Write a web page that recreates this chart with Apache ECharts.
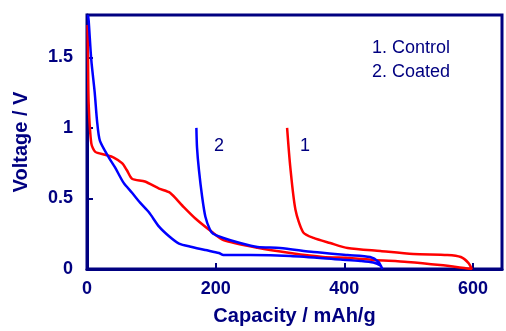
<!DOCTYPE html>
<html>
<head>
<meta charset="utf-8">
<script src="https://cdn.jsdelivr.net/npm/echarts@6/dist/echarts.min.js"></script>
<style>
html,body{margin:0;padding:0;background:#fff;}
#chart{width:506px;height:331px;}
</style>
</head>
<body>
<div id="chart"></div>
<script>
// Series 1: Control (red) — discharge then charge
const controlCapacity = [0.8, 1.6, 2.6, 6.7, 12.9, 28, 41.6, 54.5, 62, 70, 90, 112, 129, 148, 168, 195, 212, 265, 316, 367, 409, 445, 498, 549, 591, 598,
  593, 581, 560, 507, 456, 405, 378, 352, 336, 324, 316, 311];
const controlVoltage = [1.73, 1.48, 1.17, 0.89, 0.83, 0.81, 0.79, 0.75, 0.70, 0.64, 0.62, 0.57, 0.54, 0.45, 0.36, 0.26, 0.205, 0.15, 0.113, 0.085, 0.078, 0.064, 0.05, 0.028, 0.004, 0.0,
  0.042, 0.085, 0.099, 0.106, 0.127, 0.149, 0.184, 0.22, 0.26, 0.42, 0.72, 1.0];
// Series 2: Coated (blue) — discharge then charge
const coatedCapacity = [1.5, 2.6, 6.7, 12, 15.6, 20, 34, 43.6, 57, 70, 82.5, 96.5, 112, 128, 143, 163, 184, 205, 212, 254, 316, 394, 425, 445, 456, 459,
  453, 440, 405, 352, 300, 265, 238, 212, 196, 191, 184, 179, 174, 171, 170];
const coatedVoltage = [1.8, 1.76, 1.48, 1.25, 1.05, 0.91, 0.79, 0.72, 0.61, 0.54, 0.47, 0.40, 0.30, 0.23, 0.18, 0.156, 0.134, 0.113, 0.099, 0.099, 0.092, 0.067, 0.057, 0.046, 0.025, 0.0,
  0.05, 0.085, 0.099, 0.12, 0.149, 0.156, 0.184, 0.22, 0.25, 0.28, 0.37, 0.51, 0.70, 0.86, 1.0];
const seriesNames = ['1. Control', '2. Coated'];
const curveLabels = ['1', '2'];
const xTicks = [0, 200, 400, 600];
const yTicks = [0, 0.5, 1, 1.5];

const navy = '#000080';
const pair = (xs, ys) => xs.map((x, i) => [x, ys[i]]);

const chart = echarts.init(document.getElementById('chart'), null, {renderer: 'canvas'});
chart.setOption({
  animation: false,
  backgroundColor: '#fff',
  grid: {left: 87, right: 4, top: 15, bottom: 62, show: true, borderColor: navy, borderWidth: 3, backgroundColor: 'transparent'},
  xAxis: {
    type: 'value', min: 0, max: 645, interval: 200,
    name: 'Capacity / mAh/g', nameLocation: 'middle', nameGap: 37,
    nameTextStyle: {color: navy, fontFamily: 'Liberation Sans', fontWeight: 'bold', fontSize: 20},
    axisLine: {show: true, lineStyle: {color: navy, width: 3}},
    axisTick: {show: true, inside: true, length: 6, lineStyle: {color: navy, width: 2}},
    axisLabel: {color: navy, fontFamily: 'Liberation Sans', fontWeight: 'bold', fontSize: 18, margin: 11, showMaxLabel: false,
      formatter: v => xTicks.includes(v) ? String(v) : ''},
    splitLine: {show: false}
  },
  yAxis: {
    type: 'value', min: 0, max: 1.8, interval: 0.5,
    name: 'Voltage / V', nameLocation: 'middle', nameGap: 56,
    nameTextStyle: {color: navy, fontFamily: 'Liberation Sans', fontWeight: 'bold', fontSize: 20},
    axisLine: {show: true, lineStyle: {color: navy, width: 3}},
    axisTick: {show: true, inside: true, length: 6, lineStyle: {color: navy, width: 2}},
    axisLabel: {color: navy, fontFamily: 'Liberation Sans', fontWeight: 'bold', fontSize: 18, margin: 14, showMaxLabel: false,
      formatter: v => yTicks.includes(v) ? String(v) : ''},
    splitLine: {show: false}
  },
  series: [
    {name: seriesNames[0], type: 'line', data: pair(controlCapacity, controlVoltage), showSymbol: false, smooth: 0.25,
      lineStyle: {color: '#ff0000', width: 2.5}, itemStyle: {color: '#ff0000'}},
    {name: seriesNames[1], type: 'line', data: pair(coatedCapacity, coatedVoltage), showSymbol: false, smooth: 0.25,
      lineStyle: {color: '#0000ff', width: 2.5}, itemStyle: {color: '#0000ff'}}
  ],
  graphic: [
    {type: 'text', left: 372, top: 39, style: {text: seriesNames[0], fill: navy, font: '18px "Liberation Sans"'}},
    {type: 'text', left: 372, top: 63, style: {text: seriesNames[1], fill: navy, font: '18px "Liberation Sans"'}},
    {type: 'text', left: 300, top: 137, style: {text: curveLabels[0], fill: navy, font: '18px "Liberation Sans"'}},
    {type: 'text', left: 214, top: 137, style: {text: curveLabels[1], fill: navy, font: '18px "Liberation Sans"'}}
  ]
});
</script>
</body>
</html>
